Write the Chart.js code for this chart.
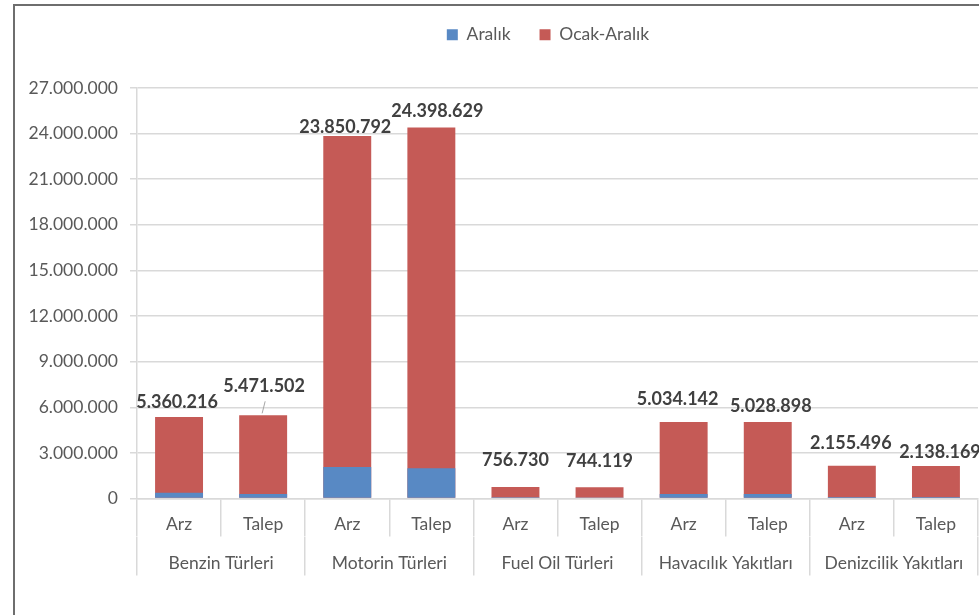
<!DOCTYPE html>
<html lang="tr">
<head>
<meta charset="utf-8">
<title>Arz ve Talep</title>
<script src="https://cdn.jsdelivr.net/npm/chart.js@4.4.1/dist/chart.umd.min.js"></script>
<style>
    html, body { margin: 0; padding: 0; background: #fff; }
</style>
</head>
<body>
<canvas id="grafik" width="979" height="615"></canvas>
<script>
// Veriler
const kategoriler = ['Arz', 'Talep', 'Arz', 'Talep', 'Arz', 'Talep', 'Arz', 'Talep', 'Arz', 'Talep'];
const gruplar = ['Benzin Türleri', 'Motorin Türleri', 'Fuel Oil Türleri', 'Havacılık Yakıtları', 'Denizcilik Yakıtları'];
const aralik = [380000, 300000, 2080000, 1990000, 80000, 40000, 300000, 300000, 100000, 100000];
const ocakAralik = [5360216, 5471502, 23850792, 24398629, 756730, 744119, 5034142, 5028898, 2155496, 2138169];
const yEnFazla = 27000000;
const yAdim = 3000000;

// Sayıyı noktalı biçime çevir (23.850.792)
function bicimle(v) {
    return String(Math.round(v)).replace(/\B(?=(\d{3})+(?!\d))/g, '.');
}

// Excel'de elle taşınan etiketler: [x kayması, çubuğun üstünden yükseklik]
const etiketKonum = [[-2, 15], [1, 29], [-2, 9], [6, 16], [0, 27], [0, 26], [-6, 23], [3, 16], [-1, 23], [4, 14]];

const griCizgi = '#D9D9D9';
const yaziRengi = '#595959';
const yazi = 'Lato';

// Dış çerçeve (sol ve üst kenar)
const cerceve = {
    id: 'cerceve',
    beforeDraw(chart) {
        const ctx = chart.ctx;
        ctx.save();
        ctx.fillStyle = '#fff';
        ctx.fillRect(0, 0, chart.width, chart.height);
        ctx.fillStyle = '#6e6e6e';
        ctx.fillRect(13, 4, 2, chart.height - 4);
        ctx.fillRect(13, 4, chart.width - 13, 2);
        ctx.restore();
    }
};

// Lejant: altında boşluk bırak, biraz sağa ve yukarı kaydır
const lejantYeri = {
    id: 'lejantYeri',
    beforeLayout(chart) {
        const lejant = chart.legend;
        if (lejant && !lejant._yamali) {
            const eskiFit = lejant.fit;
            lejant.fit = function() {
                eskiFit.call(this);
                this.height = 88;
            };
            lejant._yamali = true;
        }
    },
    afterLayout(chart) {
        const lejant = chart.legend;
        lejant.left += 59;
        lejant.right += 59;
        lejant.top -= 3;
    }
};

// Ocak-Aralık değer etiketleri
const degerEtiketleri = {
    id: 'degerEtiketleri',
    afterDatasetsDraw(chart) {
        const ctx = chart.ctx;
        const meta = chart.getDatasetMeta(1);
        ctx.save();
        ctx.font = 'bold 18px ' + yazi;
        ctx.fillStyle = '#404040';
        ctx.textAlign = 'center';
        ctx.textBaseline = 'middle';
        meta.data.forEach((bar, i) => {
            const x = bar.x + etiketKonum[i][0];
            const y = bar.y - etiketKonum[i][1];
            ctx.fillText(bicimle(ocakAralik[i]), x, y);
            // Benzin Talep etiketi yukarı taşınmış, kılavuz çizgisi var
            if (i === 1) {
                ctx.strokeStyle = '#a6a6a6';
                ctx.lineWidth = 1;
                ctx.beginPath();
                ctx.moveTo(bar.x - 1, bar.y - 2);
                ctx.lineTo(bar.x + 2, y + 15);
                ctx.stroke();
            }
        });
        ctx.restore();
    }
};

const ctx = document.getElementById('grafik').getContext('2d');
const grafik = new Chart(ctx, {
    type: 'bar',
    data: {
        labels: kategoriler,
        datasets: [
            {
                label: 'Aralık',
                data: aralik,
                backgroundColor: '#5889C4'
            },
            {
                label: 'Ocak-Aralık',
                data: ocakAralik,
                backgroundColor: '#C55A56'
            }
        ]
    },
    options: {
        responsive: false,
        animation: false,
        events: [],
        layout: { padding: { top: 0, right: 1, bottom: 37.5, left: 0 } },
        datasets: {
            bar: { grouped: false, categoryPercentage: 1, barPercentage: 0.57 }
        },
        plugins: {
            legend: {
                position: 'top',
                labels: {
                    color: yaziRengi,
                    font: { family: yazi, size: 17.5 },
                    boxWidth: 11,
                    boxHeight: 11,
                    padding: 29
                }
            },
            tooltip: { enabled: false }
        },
        scales: {
            x: {
                offset: true,
                grid: { offset: true, drawOnChartArea: false, drawTicks: true, tickLength: 38, color: griCizgi, lineWidth: 1.5 },
                border: { display: true, color: griCizgi, width: 1.5 },
                ticks: { color: yaziRengi, font: { family: yazi, size: 17.5 }, padding: -23, autoSkip: false, maxRotation: 0 },
                afterFit(scale) { scale.height = 38; }
            },
            x2: {
                type: 'category',
                position: 'bottom',
                labels: gruplar,
                offset: true,
                grid: { offset: true, drawOnChartArea: false, drawTicks: true, tickLength: 39, color: griCizgi, lineWidth: 1.5 },
                border: { display: false },
                ticks: { color: yaziRengi, font: { family: yazi, size: 17.5 }, padding: -23, autoSkip: false, maxRotation: 0 },
                afterFit(scale) { scale.height = 41; }
            },
            y: {
                min: 0,
                max: yEnFazla,
                ticks: {
                    stepSize: yAdim,
                    color: yaziRengi,
                    font: { family: yazi, size: 17.5 },
                    padding: 12,
                    callback: v => bicimle(v)
                },
                grid: { color: griCizgi, lineWidth: 1.5, tickLength: 7 },
                border: { display: true, color: griCizgi, width: 1.5 },
                afterFit(scale) { scale.width = 137; }
            }
        }
    },
    plugins: [cerceve, lejantYeri, degerEtiketleri]
});
</script>
</body>
</html>
